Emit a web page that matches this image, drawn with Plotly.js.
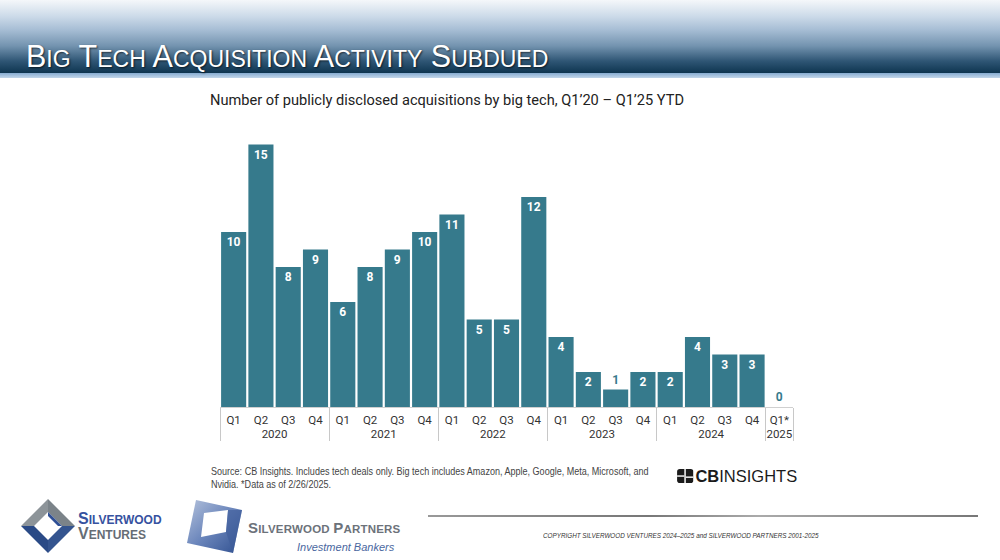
<!DOCTYPE html>
<html><head><meta charset="utf-8">
<script src="https://cdn.plot.ly/plotly-3.0.1.min.js"></script>
<style>
body{margin:0;width:1000px;height:560px;overflow:hidden;background:#fff;position:relative;font-family:Roboto,sans-serif}
#hdr{position:absolute;left:0;top:0;width:1000px;height:73px;background:linear-gradient(#f5f7fa 0px,#cddbe9 16px,#a6bdd4 30px,#7393af 46px,#2f5675 61px,#0e3550 73px)}
#strip{position:absolute;left:0;top:73px;width:1000px;height:5px;background:linear-gradient(#86acd1,#c2d6ea)}
#ttl{position:absolute;left:26px;top:40px;color:#fff;font-family:"Liberation Sans",Arial,sans-serif;font-size:30.5px;line-height:32px;text-shadow:1px 1px 2px rgba(0,0,0,.65);white-space:nowrap}
#ttl .s{font-size:23px}
#chart{position:absolute;left:0;top:0;width:1000px;height:560px}
#src{position:absolute;left:211px;top:465px;font-family:"Liberation Sans",Arial,sans-serif;font-size:10.5px;line-height:12.5px;color:#444;white-space:nowrap;transform:scaleX(0.86);transform-origin:0 0}
#cb{position:absolute;left:677px;top:468px;font-family:"Liberation Sans",Arial,sans-serif;font-size:17px;color:#1b1b1b;white-space:nowrap;line-height:18px;transform:scaleX(0.97);transform-origin:0 0}
#copy{position:absolute;left:543px;top:531px;font-family:"Liberation Sans",Arial,sans-serif;font-style:italic;font-size:7.2px;color:#333;white-space:nowrap;transform:scaleX(0.88);transform-origin:0 0}
#rule{position:absolute;left:428px;top:515px;width:550px;height:1.5px;background:linear-gradient(90deg,#999,#777 40%,#aaa 60%,#777)}
.lg{position:absolute;font-family:"Liberation Sans",Arial,sans-serif;font-weight:bold;white-space:nowrap;line-height:14px}
</style></head>
<body>
<div id="hdr"></div><div id="strip"></div>
<div id="ttl">B<span class="s">IG</span> T<span class="s">ECH</span> A<span class="s">CQUISITION</span> A<span class="s">CTIVITY</span> S<span class="s">UBDUED</span></div>
<div id="chart"></div>
<div id="src">Source: CB Insights. Includes tech deals only. Big tech includes Amazon, Apple, Google, Meta, Microsoft, and<br>Nvidia. *Data as of 2/26/2025.</div>
<div id="cb"><svg width="17" height="14" style="vertical-align:-1px;margin-right:2px" viewBox="0 0 18 15"><rect x="0" y="0" width="18" height="15" rx="3" fill="#1b1b1b"/><rect x="8" y="0" width="1.6" height="15" fill="#fff"/><rect x="0" y="6.8" width="8" height="1.5" fill="#fff"/><rect x="9.6" y="8" width="8.4" height="1.5" fill="#fff"/></svg><b>CB</b>INSIGHTS</div>
<div id="rule"></div>
<div id="copy">COPYRIGHT SILVERWOOD VENTURES 2024–2025 and SILVERWOOD PARTNERS 2001-2025</div>
<svg style="position:absolute;left:0;top:490px" width="260" height="70">
  <polygon points="21,36 48,9 48,22 34,36" fill="#8d9499"/>
  <polygon points="48,9 75,36 62,36 48,22" fill="#7b8389"/>
  <polygon points="75,36 48,63 48,50 62,36" fill="#34548f"/>
  <polygon points="48,63 21,36 34,36 48,50" fill="#2a4a86"/>
  <polygon points="48,22 62,36 58,36 48,26" fill="#2f4f95"/>
  <defs><linearGradient id="pg" x1="0" y1="0" x2="1" y2="1"><stop offset="0" stop-color="#b4c2dc"/><stop offset="0.5" stop-color="#6a85bb"/><stop offset="1" stop-color="#2f4f8f"/></linearGradient></defs>
  <polygon points="196,10 242,20 233,63 187,53" fill="url(#pg)"/>
  <polygon points="204,23 228,20 226,42 201,47" fill="#fff"/>
  <polygon points="228,20 242,20 233,63 226,42" fill="#3d5c9a" opacity="0.6"/>
</svg>
<div class="lg" style="left:78px;top:512px;color:#3652a0;font-size:12px"><span style="font-size:16px">S</span>ILVERWOOD</div>
<div class="lg" style="left:78px;top:527px;color:#666d75;font-size:12px"><span style="font-size:16px">V</span>ENTURES</div>
<div class="lg" style="left:248px;top:521px;color:#6c727a;font-size:11.5px;letter-spacing:0.2px"><span style="font-size:15px">S</span>ILVERWOOD <span style="font-size:15px">P</span>ARTNERS</div>
<div class="lg" style="left:297px;top:540px;color:#4a67a0;font-size:11px;font-weight:normal;font-style:italic">Investment Bankers</div>
<script>
const quarters = ['Q1','Q2','Q3','Q4','Q1','Q2','Q3','Q4','Q1','Q2','Q3','Q4','Q1','Q2','Q3','Q4','Q1','Q2','Q3','Q4','Q1*'];
const years = ['2020','2020','2020','2020','2021','2021','2021','2021','2022','2022','2022','2022','2023','2023','2023','2023','2024','2024','2024','2024','2025'];
const deals = [10,15,8,9,6,8,9,10,11,5,5,12,4,2,1,2,2,4,3,3,0];
const chartTitle = 'Number of publicly disclosed acquisitions by big tech, Q1’20 – Q1’25 YTD';
const teal = '#367a8c';
Plotly.newPlot('chart', [{
  type:'bar', x:[years, quarters], y:deals,
  marker:{color:teal, line:{width:0}},
  text:deals.map(String),
  textposition:deals.map(v => v >= 2 ? 'inside' : 'outside'),
  insidetextanchor:'end', textangle:0, constraintext:'none',
  insidetextfont:{family:'Roboto', size:12, color:'#ffffff', weight:700},
  outsidetextfont:{family:'Roboto', size:12, color:teal, weight:700},
  cliponaxis:false, hoverinfo:'none'
}], {
  width:1000, height:560,
  margin:{l:220, r:207, t:127, b:153, pad:0},
  paper_bgcolor:'rgba(0,0,0,0)', plot_bgcolor:'rgba(0,0,0,0)',
  bargap:0.08, showlegend:false,
  font:{family:'Roboto', color:'#333'},
  title:{text:chartTitle, x:210/1000, xanchor:'left', y:1-100/560, yanchor:'middle', font:{family:'Roboto', size:14.6, color:'#222'}},
  xaxis:{type:'multicategory', showdividers:true, dividercolor:'#c8c8c8', dividerwidth:1, tickfont:{family:'Roboto', size:11.5, color:'#333'}, tickangle:0, ticklabelstandoff:2, showgrid:false, zeroline:false, showline:true, linecolor:'#d0d0d0', linewidth:1, layer:'below traces', ticks:''},
  yaxis:{visible:false, range:[0,16], fixedrange:true}
}, {staticPlot:true});
</script>
</body></html>
